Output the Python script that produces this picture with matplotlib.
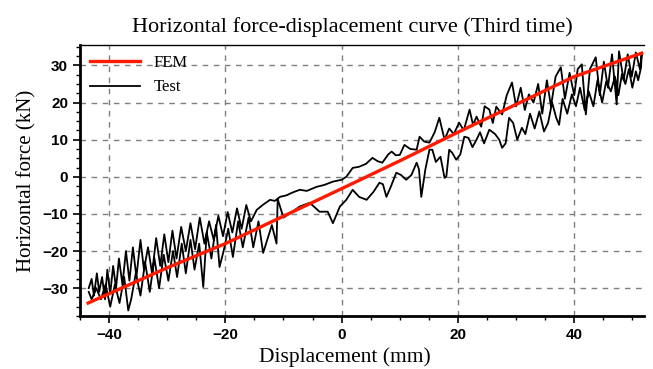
import matplotlib
matplotlib.use("Agg")
import matplotlib.pyplot as plt
from matplotlib.ticker import MultipleLocator

# FEM curve (kN vs mm)
fem_x = [-43.6, -30.0, -20.0, -10.0, 0.0, 10.0, 20.0, 30.0, 40.0, 51.6]
fem_y = [-34.0, -24.5, -18.0, -10.6, -3.2, 4.3, 12.0, 19.5, 27.0, 33.3]

# Test curve: loading branch (left -> right)
load_x = [-43.5, -43.0, -42.6, -42.1, -41.7, -41.2, -40.7, -40.3, -39.8, -39.3,
          -38.8, -38.3, -37.7, -37.1, -36.5, -35.9, -35.3, -34.6, -34.0, -33.3,
          -32.6, -31.9, -31.2, -30.5, -29.8, -29.1, -28.4, -27.6, -26.8, -26.0,
          -25.2, -24.4, -23.6, -22.8, -22.0, -21.2, -20.4, -19.6, -18.8, -18.0,
          -17.2, -16.4, -15.6, -14.6, -13.5, -12.3, -11.5, -10.6, -9.5, -8.4,
          -7.2, -6.0, -4.3, -3.0, -1.5, 0.0, 0.8, 1.9, 3.0, 4.2,
          5.3, 6.2, 7.0, 8.0, 8.6, 9.3, 10.0, 10.8, 11.8, 12.9,
          13.4, 14.2, 15.1, 16.0, 16.8, 17.7, 18.5, 19.3, 20.2, 21.0,
          22.0, 22.6, 23.2, 24.0, 24.6, 25.4, 26.0, 26.6, 27.6, 28.4,
          29.3, 30.0, 30.8, 31.5, 32.2, 33.0, 33.8, 34.5, 35.3, 36.0,
          36.8, 37.7, 38.4, 39.2, 40.0, 40.6, 41.3, 42.0, 42.7, 43.7,
          44.4, 45.1, 45.8, 46.5, 47.3, 47.7, 48.5, 49.2, 49.9, 50.6,
          51.3, 51.6]
load_y = [-30.0, -27.5, -32.0, -26.0, -31.0, -27.0, -33.0, -25.0, -31.5, -24.0,
          -30.0, -22.0, -29.0, -20.0, -28.0, -19.0, -27.0, -17.0, -25.0, -19.0,
          -26.0, -16.5, -24.0, -15.5, -23.0, -14.5, -22.0, -13.5, -20.0, -12.5,
          -19.5, -11.0, -18.0, -12.0, -17.0, -10.5, -16.0, -9.5, -15.0, -8.5,
          -14.0, -7.6, -12.0, -8.9, -7.5, -6.2, -6.5, -5.4, -5.0, -4.2,
          -3.5, -3.8, -2.7, -2.2, -1.3, -0.8, 0.0, 2.4, 2.7, 3.5,
          5.1, 4.2, 3.8, 6.0, 6.8, 5.8, 5.9, 8.6, 7.5, 7.3,
          10.8, 9.5, 9.2, 12.0, 15.9, 10.0, 13.0, 11.5, 14.6, 12.5,
          18.1, 14.0, 16.2, 13.5, 19.0, 18.1, 14.5, 18.9, 16.8, 22.0,
          25.4, 19.0, 24.0, 18.0, 22.2, 20.0, 25.0, 17.0, 26.0, 19.0,
          27.0, 29.5, 21.0, 28.0, 22.0, 29.0, 30.3, 16.8, 29.0, 32.2,
          22.0, 31.0, 24.0, 33.0, 19.5, 33.8, 26.0, 33.0, 27.0, 33.5,
          29.0, 33.0]

# Test curve: unloading branch (right -> left)
unload_x = [51.5, 51.0, 50.6, 50.0, 49.4, 48.8, 48.2, 47.6, 47.0, 46.3,
            45.5, 44.8, 44.0, 43.3, 42.5, 41.8, 41.0, 40.3, 39.6, 38.8,
            38.0, 37.4, 36.9, 36.2, 35.5, 34.8, 34.0, 33.2, 32.4, 31.6,
            31.0, 30.2, 29.5, 28.8, 28.2, 27.6, 27.1, 26.4, 25.4, 24.5,
            23.8, 23.2, 22.5, 21.8, 21.1, 20.4, 19.7, 19.0, 18.5, 18.0,
            17.7, 17.0, 16.2, 15.6, 15.1, 14.4, 13.7, 13.3, 12.9, 12.0,
            11.1, 10.2, 9.4, 8.5, 7.7, 7.1, 6.5, 5.5, 4.3, 3.0,
            1.9, 0.8, -0.3, -1.5, -2.4, -3.8, -5.5, -7.2, -8.9, -10.0,
            -11.0, -11.2, -12.0, -13.5, -14.3, -15.2, -16.0, -17.0, -17.8, -18.7,
            -19.5, -20.3, -21.0, -21.6, -22.4, -23.2, -23.8, -24.5, -25.3, -26.0,
            -26.8, -27.5, -28.3, -29.0, -29.8, -30.6, -31.4, -32.2, -33.0, -33.8,
            -34.6, -35.4, -36.2, -36.7, -37.4, -38.2, -39.0, -39.8, -40.6, -41.4,
            -42.2, -43.0, -43.5]
unload_y = [29.5, 26.0, 28.4, 24.0, 29.0, 25.0, 27.6, 22.0, 27.0, 23.0,
            25.7, 20.0, 26.0, 19.0, 23.0, 18.0, 24.0, 19.0, 22.2, 17.0,
            21.0, 14.0, 15.9, 20.0, 14.5, 12.2, 17.6, 13.0, 17.0, 11.5,
            13.2, 10.0, 14.5, 15.9, 9.0, 7.8, 10.0, 11.5, 12.7, 9.0,
            12.0, 10.0, 8.0, 10.5, 10.8, 6.0, 4.6, 6.5, 7.3, 0.0,
            -0.3, 5.4, 4.0, 7.3, 7.3, 2.0, -5.4, 2.0, 3.8, 0.5,
            -0.8, 0.5, 1.1, -2.5, -5.4, -2.0, -1.6, -4.0, -6.2, -5.4,
            -3.5, -6.2, -8.0, -12.5, -9.4, -9.4, -7.0, -8.0, -9.8, -11.0,
            -6.0, -18.0, -13.0, -20.5, -12.0, -19.0, -11.0, -19.0, -12.0, -21.6,
            -14.0, -20.0, -24.3, -13.0, -22.0, -15.0, -29.7, -18.0, -25.0, -17.0,
            -26.0, -18.0, -27.0, -20.0, -28.0, -21.0, -30.0, -22.0, -31.0, -23.0,
            -32.0, -26.0, -33.0, -36.0, -27.0, -34.0, -29.0, -35.0, -29.0, -33.0,
            -30.0, -33.0, -31.0]

test_x = load_x + unload_x
test_y = load_y + unload_y

fig = plt.figure(figsize=(6.53, 3.69), dpi=100)
ax = fig.add_axes([0.1225, 0.1436, 0.8637, 0.7344])

ax.plot(test_x, test_y, color="black", linewidth=1.3, label="Test", zorder=2)
ax.plot(fem_x, fem_y, color="#ff1a00", linewidth=2.4, label="FEM", zorder=3)

ax.set_xlim(-45, 52)
ax.set_ylim(-37.5, 35.5)
ax.xaxis.set_major_locator(MultipleLocator(20))
ax.xaxis.set_minor_locator(MultipleLocator(5))
ax.yaxis.set_major_locator(MultipleLocator(10))
ax.yaxis.set_minor_locator(MultipleLocator(2.5))

ax.grid(True, which="major", color="#7f7f7f", linestyle=(0, (4, 4)), linewidth=1.0)
ax.set_axisbelow(True)

ax.spines["right"].set_visible(False)
ax.spines["top"].set_linewidth(1.0)
ax.spines["left"].set_linewidth(2.0)
ax.spines["bottom"].set_linewidth(2.0)

ax.tick_params(which="major", direction="out", length=5, width=1.2)
ax.tick_params(which="minor", direction="out", length=3, width=1.0)
ax.tick_params(top=False, right=False)
for lbl in ax.get_xticklabels() + ax.get_yticklabels():
    lbl.set_fontfamily("Liberation Sans")
    lbl.set_fontweight("bold")
    lbl.set_fontsize(11)

serif = "Liberation Serif"
fig.text(0.539, 0.927, "Horizontal force-displacement curve (Third time)",
         fontfamily=serif, fontsize=16, ha="center", va="center")
ax.set_xlabel("Displacement (mm)", fontfamily=serif, fontsize=15.5, labelpad=0)
ax.xaxis.set_label_coords(0.47, -0.115)
ax.set_ylabel("Horizontal force (kN)", fontfamily=serif, fontsize=15, labelpad=4)

handles, labels = ax.get_legend_handles_labels()
leg = ax.legend(handles[::-1], labels[::-1], loc="upper left", frameon=False,
                prop={"family": serif, "size": 12}, handlelength=3.0,
                borderaxespad=0.2, labelspacing=0.5)

fig.savefig("out.png", dpi=100)
